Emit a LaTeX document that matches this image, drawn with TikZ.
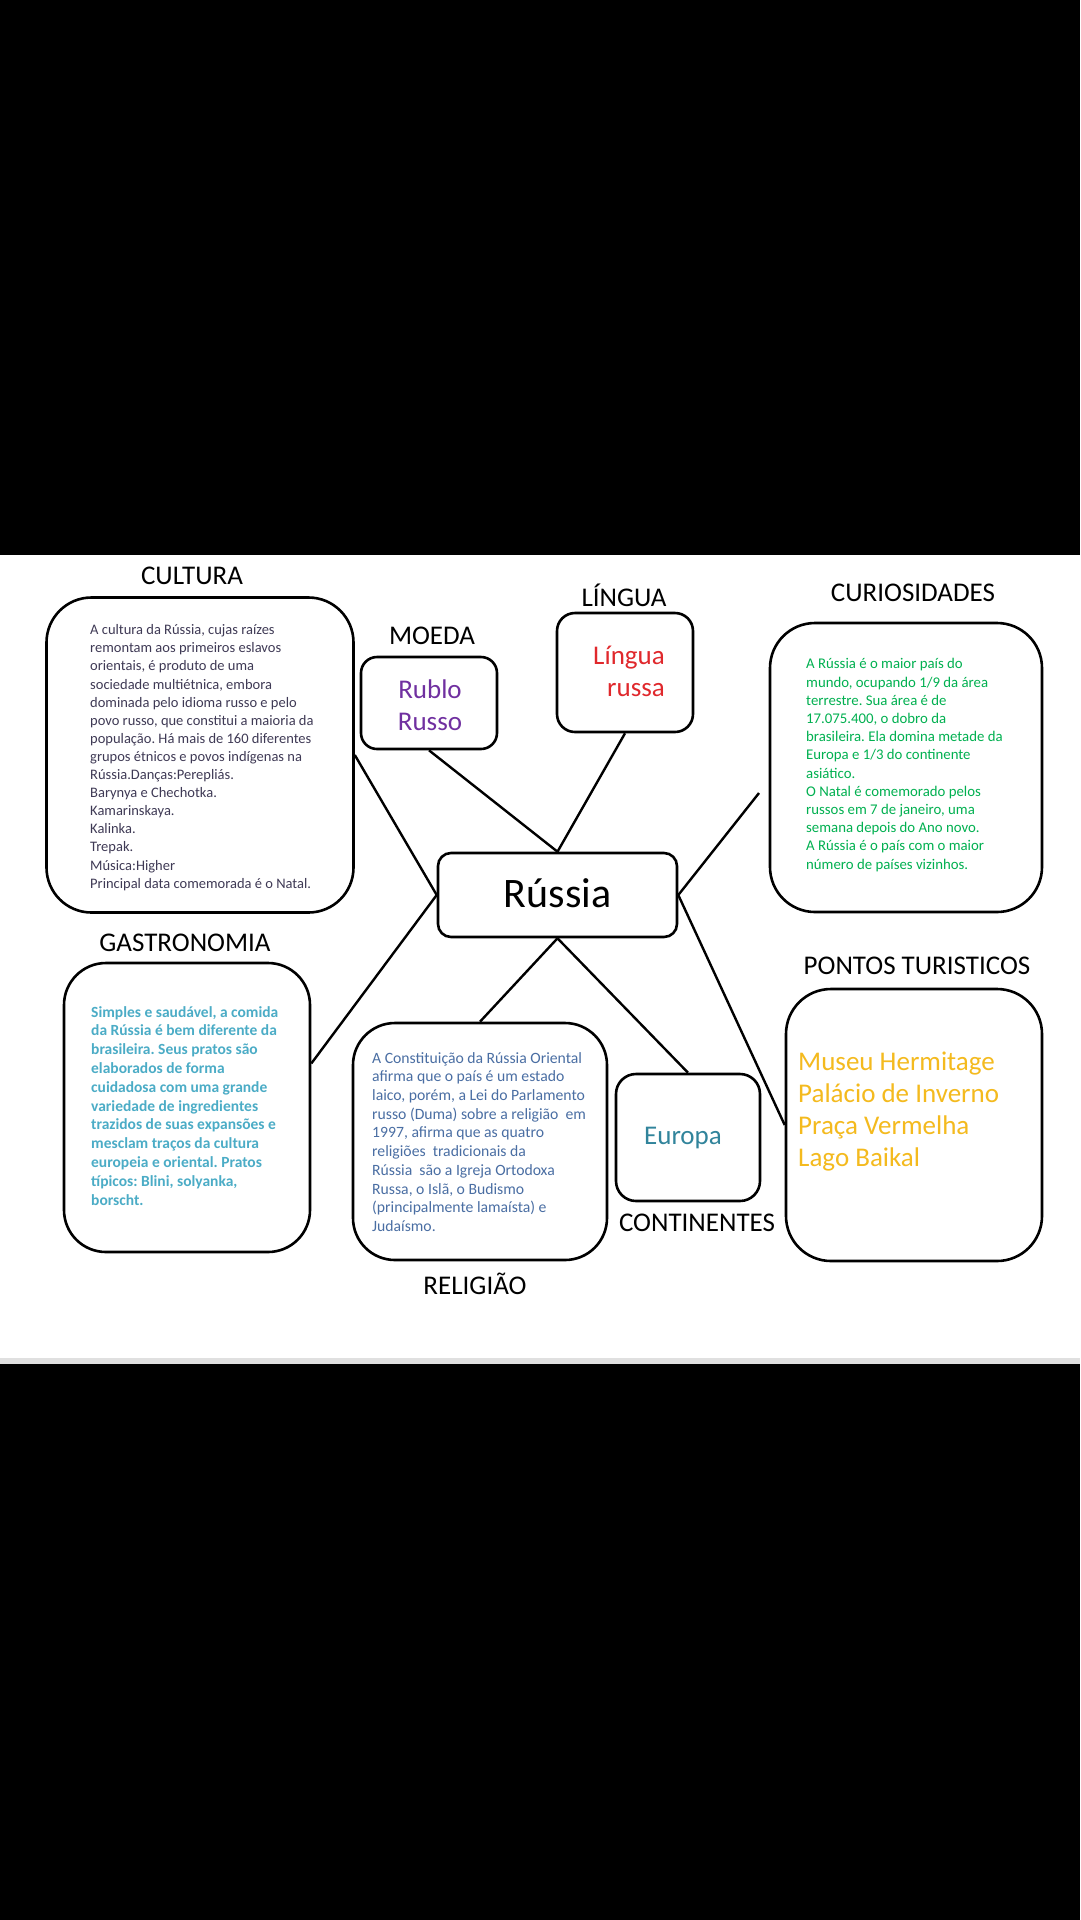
\documentclass[tikz,border=0pt]{standalone}
\usepackage{fontspec}
\setmainfont{Carlito}
\frenchspacing
\definecolor{culttxt}{HTML}{3F3A55}
\definecolor{moedatxt}{HTML}{7030A0}
\definecolor{linguatxt}{HTML}{E0282C}
\definecolor{curiotxt}{HTML}{00B050}
\definecolor{gastrotxt}{HTML}{4BACC6}
\definecolor{religtxt}{HTML}{4A6EA3}
\definecolor{europatxt}{HTML}{31849B}
\definecolor{pontostxt}{HTML}{F4BA1E}
\definecolor{stripgray}{HTML}{E0E0E0}
\begin{document}
\begin{tikzpicture}[x=1pt,y=-1pt,
  box/.style={draw, line width=2.6pt, rounded corners=#1, fill=white, inner sep=0pt},
  box/.default=20pt,
  conn/.style={line width=2.4pt},
  heading/.style={inner sep=0pt, font=\fontsize{27}{32}\selectfont},
  txt/.style={anchor=north west, align=left, inner sep=0pt, font=\fontsize{14.5}{18.1}\selectfont},
  bigtxt/.style={inner sep=0pt, font=\fontsize{27}{32}\selectfont}]
\useasboundingbox (0,0) rectangle (1080,1920);
\fill[black] (0,0) rectangle (1080,1920);
\fill[white] (0,555) rectangle (1080,1358);
\fill[stripgray] (0,1358) rectangle (1080,1364);

% boxes
\node[box=45pt, minimum width=307pt, minimum height=315pt] (cult) at (200,755) {};
\node[box=16pt, minimum width=136pt, minimum height=92pt] (moeda) at (429,703) {};
\node[box=18pt, minimum width=136pt, minimum height=119pt] (lingua) at (625,672.5) {};
\node[box=45pt, minimum width=272pt, minimum height=289pt] (curio) at (906,767.5) {};
\node[box=13pt, minimum width=239pt, minimum height=84pt] (rus) at (557.5,895) {};
\node[box=42pt, minimum width=246pt, minimum height=289pt] (gastro) at (187,1107.5) {};
\node[box=42pt, minimum width=254pt, minimum height=237pt] (relig) at (480,1141.5) {};
\node[box=20pt, minimum width=144pt, minimum height=127pt] (europa) at (688,1137.5) {};
\node[box=45pt, minimum width=256pt, minimum height=272pt] (pontos) at (914,1125) {};

% headings
\node[heading] (hcult) at (192,576) {CULTURA};
\node[heading] (hmoeda) at (432,636) {MOEDA};
\node[heading] (hlingua) at (624,595) {LÍNGUA};
\node[heading] (hcurio) at (913,593) {CURIOSIDADES};
\node[heading] (hgastro) at (185,943) {GASTRONOMIA};
\node[heading] (hrelig) at (475,1284) {RELIGIÃO};
\node[heading] (hcont) at (697,1223) {CONTINENTES};
\node[heading] (hpontos) at (917,966) {PONTOS TURISTICOS};

% centre
\node[inner sep=0pt, font=\fontsize{42}{50}\selectfont] (rustxt) at (557.5,893) {Rússia};

% contents
\node[txt, text=culttxt] (culttext) at (90,624.5) {A cultura da Rússia, cujas raízes\\
remontam aos primeiros eslavos\\
orientais, é produto de uma\\
sociedade multiétnica, embora\\
dominada pelo idioma russo e pelo\\
povo russo, que constitui a maioria da\\
população. Há mais de 160 diferentes\\
grupos étnicos e povos indígenas na\\
Rússia.Danças:Perepliás.\\
Barynya e Chechotka.\\
Kamarinskaya.\\
Kalinka.\\
Trepak.\\
Música:Higher\\
Principal data comemorada é o Natal.};

\node[bigtxt, text=moedatxt, align=center] (moedatext) at (430,705) {Rublo\\Russo};
\node[bigtxt, text=linguatxt, align=right, anchor=east] (linguatext) at (665,671) {Língua\\russa};

\node[txt, text=curiotxt, font=\fontsize{14.8}{18.2}\selectfont] (curiotext) at (806,658.5) {A Rússia é o maior país do\\
mundo, ocupando 1/9 da área\\
terrestre. Sua área é de\\
17.075.400, o dobro da\\
brasileira. Ela domina metade da\\
Europa e 1/3 do continente\\
asiático.\\
O Natal é comemorado pelos\\
russos em 7 de janeiro, uma\\
semana depois do Ano novo.\\
A Rússia é o país com o maior\\
número de países vizinhos.};

\node[txt, text=gastrotxt, font=\fontsize{15.5}{18.8}\selectfont\bfseries] (gastrotext) at (91,1006) {Simples e saudável, a comida\\
da Rússia é bem diferente da\\
brasileira. Seus pratos são\\
elaborados de forma\\
cuidadosa com uma grande\\
variedade de ingredientes\\
trazidos de suas expansões e\\
mesclam traços da cultura\\
europeia e oriental. Pratos\\
típicos: Blini, solyanka,\\
borscht.};

\node[txt, text=religtxt, font=\fontsize{15.7}{18.7}\selectfont] (religtext) at (372,1052) {A Constituição da Rússia Oriental\\
afirma que o país é um estado\\
laico, porém, a Lei do Parlamento\\
russo (Duma) sobre a religião~ em\\
1997, afirma que as quatro\\
religiões~ tradicionais da\\
Rússia~ são a Igreja Ortodoxa\\
Russa, o Islã, o Budismo\\
(principalmente lamaísta) e\\
Judaísmo.};

\node[bigtxt, text=europatxt] (europatext) at (683,1138) {Europa};

\node[bigtxt, text=pontostxt, align=left, anchor=north west, font=\fontsize{27}{32}\selectfont] (pontostext) at (798,1052) {Museu Hermitage\\
Palácio de Inverno\\
Praça Vermelha\\
Lago Baikal};

% connectors
\coordinate (curioend) at (759,793);
\draw[conn] (moeda.south) -- (rus.north);
\draw[conn] (lingua.south) -- (rus.north);
\draw[conn] (cult.east) -- (rus.west);
\draw[conn] ([yshift=44pt]gastro.east) -- (rus.west);
\draw[conn] (curioend) -- (rus.east);
\draw[conn] (rus.east) -- (pontos.west);
\draw[conn] (rus.south) -- (relig.north);
\draw[conn] (rus.south) -- (europa.north);
\end{tikzpicture}
\end{document}
